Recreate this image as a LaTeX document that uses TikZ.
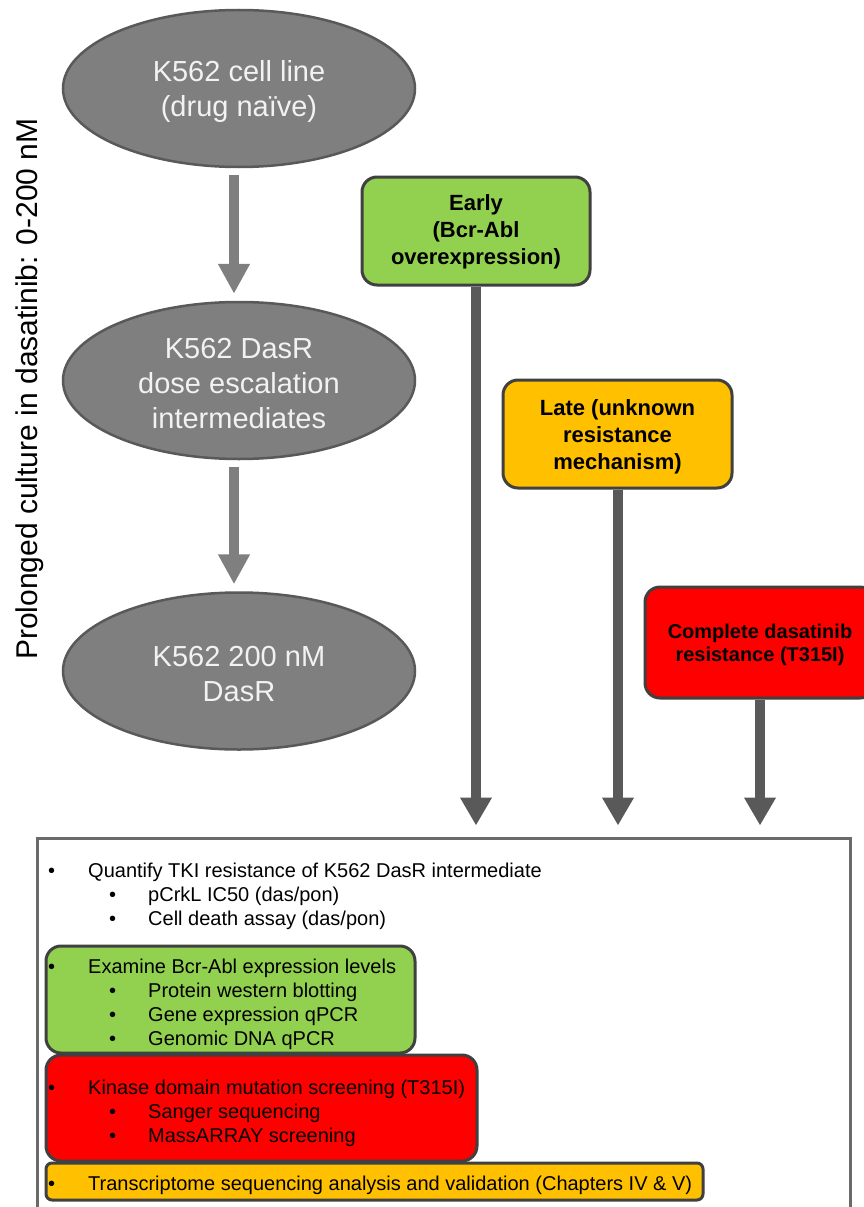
\documentclass[tikz,border=0pt]{standalone}
\usepackage{fontspec}
\setmainfont{Liberation Sans}
\usetikzlibrary{shapes.geometric,arrows.meta,calc}
\definecolor{ellfill}{HTML}{7F7F7F}
\definecolor{elldraw}{HTML}{595959}
\definecolor{arrdark}{HTML}{595959}
\definecolor{boxdraw}{HTML}{404040}
\definecolor{cgreen}{HTML}{92D050}
\definecolor{corange}{HTML}{FFC000}
\definecolor{cred}{HTML}{FF0000}
\definecolor{framecol}{HTML}{6A6A6A}
\begin{document}
\begin{tikzpicture}[x=1pt,y=-1pt,
  ell/.style={ellipse, minimum width=352pt, minimum height=157pt, inner sep=0pt,
    fill=ellfill, draw=elldraw, line width=2.5pt},
  elltext/.style={inner sep=0pt, text=white!95!black, align=center,
    font=\fontsize{29}{35}\selectfont},
  stage/.style={rectangle, rounded corners=15pt, draw=boxdraw, line width=3pt,
    inner sep=0pt, minimum height=108pt},
  stagetext/.style={inner sep=0pt, align=center, font=\bfseries\fontsize{22}{27}\selectfont},
  garrow/.style={draw=ellfill, line width=10pt, -{Triangle[width=30pt,length=30pt]}},
  darrow/.style={draw=arrdark, line width=10pt, -{Triangle[width=30pt,length=28pt]}},
  listbox/.style={rectangle, rounded corners=15pt, draw=boxdraw, line width=3pt, inner sep=0pt},
  item/.style={anchor=base west, inner sep=0pt, font=\fontsize{20}{24}\selectfont},
]
\useasboundingbox[fill=white] (0,0) rectangle (864,1207);

% side label
\node[rotate=90, anchor=base, inner sep=0pt, font=\fontsize{30}{36}\selectfont] (side)
  at (37,389) {Prolonged culture in dasatinib: 0-200 nM};

% ellipses
\node[ell] (e1) at (239,88.5) {};
\node[ell] (e2) at (239,380.5) {};
\node[ell] (e3) at (239,671) {};
\node[elltext] (e1t) at ([yshift=-3pt]e1.center) {K562 cell line\\(drug naïve)};
\node[elltext] (e2t) at ([yshift=-3pt]e2.center) {K562 DasR\\dose escalation\\intermediates};
\node[elltext] (e3t) at ([yshift=-3pt]e3.center) {K562 200 nM\\DasR};

\draw[garrow, shorten <=7pt, shorten >=7pt] ([xshift=-5pt]e1.south) -- ([xshift=-5pt]e2.north);
\draw[garrow, shorten <=7pt, shorten >=7pt] ([xshift=-5pt]e2.south) -- ([xshift=-5pt]e3.north);

% stage boxes
\node[stage, fill=cgreen, minimum width=228pt] (early) at (476,231) {};
\node[stage, fill=corange, minimum width=229pt] (late) at (617.5,434) {};
\node[stage, fill=cred, minimum width=230pt, minimum height=111pt] (complete) at (760,642.5) {};
\node[stagetext] (earlyt) at ([yshift=-1pt]early.center) {Early\\(Bcr-Abl\\overexpression)};
\node[stagetext] (latet) at ([yshift=-3pt]late.center) {Late (unknown\\resistance\\mechanism)};
\node[stagetext, font=\bfseries\fontsize{20}{23}\selectfont] (completet)
  at ([yshift=-2pt]complete.center) {Complete dasatinib\\resistance (T315I)};

% main frame
\node[rectangle, draw=framecol, line width=3pt, inner sep=0pt, minimum width=812.5pt,
  minimum height=400pt] (frame) at (443.75,1038) {};

\draw[darrow, shorten >=11pt] (early.south) -- (early.south |- frame.north);
\draw[darrow, shorten >=11pt] ([xshift=0.5pt]late.south) -- ([xshift=0.5pt]late.south |- frame.north);
\draw[darrow, shorten >=11pt] (complete.south) -- (complete.south |- frame.north);

% coloured list boxes
\node[listbox, fill=cgreen, minimum width=369pt, minimum height=107pt] (glist) at (230.5,999.5) {};
\node[listbox, fill=cred, minimum width=431pt, minimum height=106pt] (rlist) at (261.5,1108) {};
\node[listbox, fill=corange, rounded corners=6pt, minimum width=657pt, minimum height=37pt] (olist) at (374.5,1181.5) {};

% list text
\node[item] (b1) at (48,877) {•};
\node[item] (t1) at (88,877) {Quantify TKI resistance of K562 DasR intermediate};
\node[item] (b11) at (109,901) {•};
\node[item] (t11) at (148,901) {pCrkL IC50 (das/pon)};
\node[item] (b12) at (109,925) {•};
\node[item] (t12) at (148,925) {Cell death assay (das/pon)};

\node[item] (b2) at (48,973) {•};
\node[item] (t2) at (88,973) {Examine Bcr-Abl expression levels};
\node[item] (b21) at (109,997) {•};
\node[item] (t21) at (148,997) {Protein western blotting};
\node[item] (b22) at (109,1021) {•};
\node[item] (t22) at (148,1021) {Gene expression qPCR};
\node[item] (b23) at (109,1045) {•};
\node[item] (t23) at (148,1045) {Genomic DNA qPCR};

\node[item] (b3) at (48,1094) {•};
\node[item] (t3) at (88,1094) {Kinase domain mutation screening (T315I)};
\node[item] (b31) at (109,1118) {•};
\node[item] (t31) at (148,1118) {Sanger sequencing};
\node[item] (b32) at (109,1142) {•};
\node[item] (t32) at (148,1142) {MassARRAY screening};

\node[item] (b4) at (48,1190) {•};
\node[item] (t4) at (88,1190) {Transcriptome sequencing analysis and validation (Chapters IV \& V)};
\end{tikzpicture}
\end{document}
